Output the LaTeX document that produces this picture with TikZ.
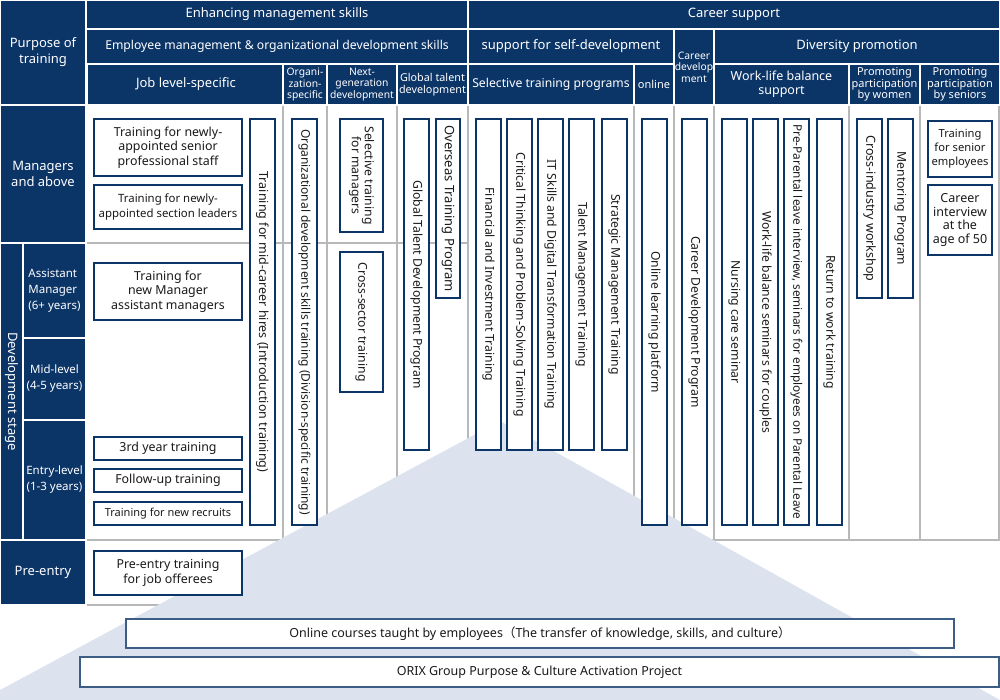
\documentclass[tikz,border=0pt]{standalone}
\usepackage{fontspec}
\setmainfont{Noto Sans}
\newfontfamily\cjk{Noto Sans CJK JP}
\definecolor{navy}{HTML}{0B3467}
\definecolor{gridgray}{HTML}{B8B8B8}
\definecolor{trifill}{HTML}{DCE3EF}
\definecolor{ink}{HTML}{1A1A1A}
\begin{document}
\begin{tikzpicture}[x=1pt,y=-1pt,
    cell/.style={fill=navy,draw=white,line width=1.5pt,text=white,align=center,inner sep=0pt,font=\fontsize{13pt}{16pt}\selectfont},
    small/.style={font=\fontsize{10.3pt}{11.5pt}\selectfont},
    prog/.style={fill=white,draw=navy,line width=1.3pt,text=ink,align=center,inner sep=0pt,font=\fontsize{12.4pt}{14.5pt}\selectfont},
    vprog/.style={prog,rotate=-90,minimum height=25pt,font=\fontsize{12.2pt}{13pt}\selectfont},
    wide/.style={prog,draw=navy!80,minimum height=29pt,font=\fontsize{12.5pt}{14pt}\selectfont},
    gridline/.style={gridgray,line width=1.2pt}]
    \useasboundingbox (0,0) rectangle (1000,700);
    \draw[gridline] (86,243) -- (468,243);
    \draw[gridline] (86,540) -- (1000,540);
    \draw[gridline] (86,605) -- (400,605);
    \foreach \x in {283,327,397,468,634,674,714,849,920,999}
        \draw[gridline] (\x,105) -- (\x,540);
    \fill[trifill] (500,421) -- (1000,700) -- (0,700) -- (0,690) -- cycle;

    \node[cell,minimum width=86pt,minimum height=105pt] (purpose) at (43,52.5) {Purpose of\\training};
    \node[cell,minimum width=382pt,minimum height=29pt] (mgmt) at (277,14.5) {Enhancing management skills};
    \node[cell,minimum width=532pt,minimum height=29pt] (career) at (734,14.5) {Career support};
    \node[cell,font=\fontsize{12.2pt}{15pt}\selectfont,minimum width=382pt,minimum height=35pt] (orgdevskills) at (277,46.5) {Employee management \& organizational development skills};
    \node[cell,minimum width=206pt,minimum height=35pt] (selfdev) at (571,46.5) {support for self-development};
    \node[cell,small,minimum width=40pt,minimum height=76pt] (careerdev) at (694,67) {Career\\develop\\ment};
    \node[cell,minimum width=286pt,minimum height=35pt] (diversity) at (857,46.5) {Diversity promotion};
    \node[cell,minimum width=197pt,minimum height=41pt] (joblevel) at (186,84.5) {Job level-specific};
    \node[cell,small,minimum width=44pt,minimum height=41pt] (orgspec) at (305,84.5) {Organi-\\zation-\\specific};
    \node[cell,small,minimum width=70pt,minimum height=41pt] (nextgen) at (362,84.5) {Next-\\generation\\development};
    \node[cell,small,font=\fontsize{10.8pt}{11.5pt}\selectfont,minimum width=71pt,minimum height=41pt] (global) at (432.5,84.5) {Global talent\\development};
    \node[cell,font=\fontsize{12.2pt}{15pt}\selectfont,minimum width=166pt,minimum height=41pt] (selective) at (551,84.5) {Selective training programs};
    \node[cell,font=\fontsize{11pt}{13pt}\selectfont,minimum width=40pt,minimum height=41pt] (online) at (654,84.5) {online};
    \node[cell,font=\fontsize{12.5pt}{14pt}\selectfont,minimum width=135pt,minimum height=41pt] (worklife) at (781.5,84.5) {Work-life balance\\support};
    \node[cell,font=\fontsize{11pt}{11.5pt}\selectfont,minimum width=71pt,minimum height=41pt] (women) at (884.5,84.5) {Promoting\\participation\\by women};
    \node[cell,font=\fontsize{11pt}{11.5pt}\selectfont,minimum width=80pt,minimum height=41pt] (seniors) at (960,84.5) {Promoting\\participation\\by seniors};

    \node[cell,minimum width=86pt,minimum height=138pt] (managers) at (43,174) {Managers\\and above};
    \node[cell,rotate=-90,minimum width=297pt,minimum height=23pt] (devstage) at (11.5,391.5) {Development stage};
    \node[cell,font=\fontsize{11.5pt}{16pt}\selectfont,align=left,minimum width=63pt,minimum height=95pt] (assistant) at (54.5,290.5) {Assistant\\Manager\\(6+ years)};
    \node[cell,font=\fontsize{11.5pt}{16pt}\selectfont,minimum width=63pt,minimum height=82pt] (midlevel) at (54.5,379) {Mid-level\\(4-5 years)};
    \node[cell,font=\fontsize{11.5pt}{16pt}\selectfont,minimum width=63pt,minimum height=120pt] (entry) at (54.5,480) {Entry-level\\(1-3 years)};
    \node[cell,minimum width=86pt,minimum height=65pt] (preentry) at (43,572.5) {Pre-entry};

    \node[prog,minimum width=148pt,minimum height=57pt] (newsenior) at (168,147.5) {Training for newly-\\appointed senior\\professional staff};
    \node[prog,font=\fontsize{11.4pt}{14.5pt}\selectfont,minimum width=148pt,minimum height=44pt] (newsection) at (168,207) {Training for newly-\\appointed section leaders};
    \node[prog,minimum width=148pt,minimum height=57pt] (newassistant) at (168,291.5) {Training for\\new Manager\\assistant managers};
    \node[prog,minimum width=148pt,minimum height=23pt] (thirdyear) at (168,448.5) {3rd year training};
    \node[prog,minimum width=148pt,minimum height=23pt] (followup) at (168,480.5) {Follow-up training};
    \node[prog,font=\fontsize{11pt}{13pt}\selectfont,minimum width=148pt,minimum height=23pt] (recruits) at (168,513.5) {Training for new recruits};
    \node[prog,minimum width=148pt,minimum height=44pt] (offerees) at (168,573) {Pre-entry training\\for job offerees};

    \node[vprog,minimum width=406pt,font=\fontsize{12.5pt}{13pt}\selectfont] (midcareer) at (262.5,322) {Training for mid-career hires (Introduction training)};
    \node[vprog,minimum width=406pt,font=\fontsize{12pt}{13pt}\selectfont] (orgdev) at (304.5,322) {Organizational development skills training (Division-specific training)};
    \node[vprog,minimum width=113pt,minimum height=43pt] (selmanagers) at (361.5,175.5) {Selective training\\for managers};
    \node[vprog,minimum width=140pt,minimum height=43pt] (crosssector) at (361.5,322) {Cross-sector training};
    \node[vprog,minimum width=331pt] (globalprog) at (416.5,284.5) {Global Talent Development Program};
    \node[vprog,minimum width=179pt,minimum height=24pt,font=\fontsize{13pt}{13pt}\selectfont] (overseas) at (448,208.5) {Overseas Training Program};
    \node[vprog,minimum width=331pt] (finance) at (488.5,284.5) {Financial and Investment Training};
    \node[vprog,minimum width=331pt] (critical) at (519.5,284.5) {Critical Thinking and Problem-Solving Training};
    \node[vprog,minimum width=331pt] (itskills) at (550.5,284.5) {IT Skills and Digital Transformation Training};
    \node[vprog,minimum width=331pt] (talent) at (581.5,284.5) {Talent Management Training};
    \node[vprog,minimum width=331pt] (strategic) at (614.5,284.5) {Strategic Management Training};
    \node[vprog,minimum width=406pt] (onlineplat) at (654.5,322) {Online learning platform};
    \node[vprog,minimum width=406pt] (careerprog) at (694.5,322) {Career Development Program};
    \node[vprog,minimum width=406pt] (nursing) at (734.5,322) {Nursing care seminar};
    \node[vprog,minimum width=406pt] (couples) at (765.5,322) {Work-life balance seminars for couples};
    \node[vprog,minimum width=406pt,font=\fontsize{11.8pt}{13pt}\selectfont] (parental) at (796.5,322) {Pre-Parental leave interview, seminars for employees on Parental Leave};
    \node[vprog,minimum width=406pt] (returnwork) at (829.5,322) {Return to work training};
    \node[vprog,minimum width=179pt,font=\fontsize{12.5pt}{13pt}\selectfont] (crossind) at (869.5,208.5) {Cross-industry workshop};
    \node[vprog,minimum width=179pt] (mentoring) at (900.5,208.5) {Mentoring Program};
    \node[prog,font=\fontsize{11.2pt}{14pt}\selectfont,minimum width=64pt,minimum height=56pt] (senioremp) at (960,149) {Training\\for senior\\employees};
    \node[prog,font=\fontsize{12.5pt}{13.7pt}\selectfont,minimum width=64pt,minimum height=70pt] (interview) at (960,220) {Career\\interview\\at the\\age of 50};

    \node[wide,minimum width=828pt] (courses) at (540,633.5) {Online courses taught by employees{\cjk （}The transfer of knowledge, skills, and culture{\cjk ）}};
    \node[wide,minimum width=919pt,minimum height=30pt] (orix) at (539.5,672) {ORIX Group Purpose \& Culture Activation Project};
\end{tikzpicture}
\end{document}
